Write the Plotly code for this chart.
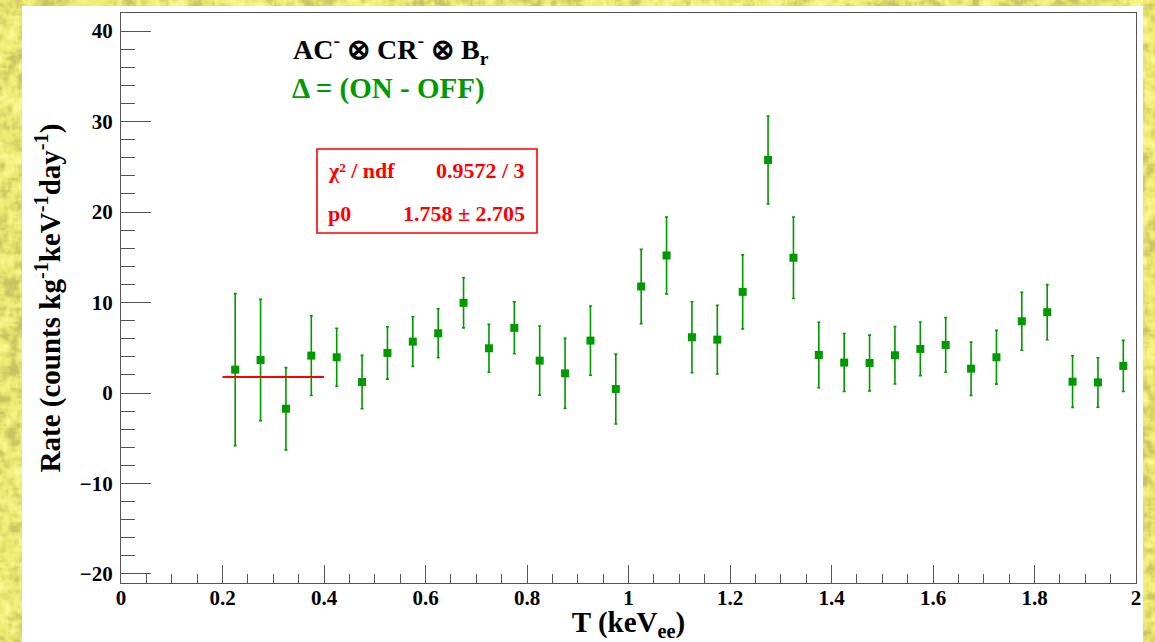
import base64
import struct
import zlib

import numpy as np
import plotly.graph_objects as go

# ---- data: ON - OFF rate per 50 eV bin ----
t_kev = [0.225, 0.275, 0.325, 0.375, 0.425, 0.475, 0.525, 0.575, 0.625, 0.675,
         0.725, 0.775, 0.825, 0.875, 0.925, 0.975, 1.025, 1.075, 1.125, 1.175,
         1.225, 1.275, 1.325, 1.375, 1.425, 1.475, 1.525, 1.575, 1.625, 1.675,
         1.725, 1.775, 1.825, 1.875, 1.925, 1.975]
rate = [2.58, 3.65, -1.74, 4.13, 3.95, 1.21, 4.43, 5.68, 6.60, 9.97,
        4.94, 7.20, 3.58, 2.17, 5.79, 0.44, 11.77, 15.20, 6.16, 5.90,
        11.18, 25.75, 14.95, 4.20, 3.36, 3.32, 4.17, 4.87, 5.31, 2.69,
        3.95, 7.93, 8.93, 1.25, 1.17, 2.99]
rate_err = [8.40, 6.70, 4.55, 4.40, 3.20, 2.95, 2.90, 2.74, 2.70, 2.77,
            2.64, 2.87, 3.82, 3.87, 3.82, 3.86, 4.10, 4.24, 3.93, 3.80,
            4.09, 4.85, 4.50, 3.62, 3.20, 3.08, 3.18, 2.97, 3.02, 2.95,
            2.97, 3.20, 3.05, 2.86, 2.73, 2.83]

# constant fit p0 over 0.2-0.4 keV
fit_range = [0.2, 0.4]
p0, p0_err = 1.758, 2.705
chi2, ndf = 0.9572, 3

x_ticks = [0, 0.2, 0.4, 0.6, 0.8, 1, 1.2, 1.4, 1.6, 1.8, 2]
y_ticks = [-20, -10, 0, 10, 20, 30, 40]

# ---- page geometry ----
W, H = 1155, 642
L, R, T, B = 121, 19, 13, 59
PW, PH = W - L - R, H - T - B


def px2x(px):
    return (px - L) / PW


def py2y(py):
    return (H - B - py) / PH


# ---- mottled yellow canvas texture ----
def blur2d(a, r):
    out = np.zeros_like(a)
    n = 0
    for dy in range(-r, r + 1):
        for dx in range(-r, r + 1):
            out += np.roll(np.roll(a, dy, axis=0), dx, axis=1)
            n += 1
    return out / n


def texture_png(w, h):
    rng = np.random.default_rng(7)
    acc = np.zeros((h, w))
    for r, amp in ((2, 1.0), (1, 0.6), (0, 0.25)):
        n = rng.normal(size=(h, w))
        if r:
            n = blur2d(n, r)
        acc += amp * n / n.std()
    acc = np.clip(acc / acc.std() / 2.0, -1, 1)
    base = np.array([238, 234, 112], float)
    dark = np.array([200, 194, 98], float)
    light = np.array([252, 250, 150], float)
    a = acc[..., None]
    img = np.where(a < 0, base + (-a) * (dark - base), base + a * (light - base))
    img = np.clip(img, 0, 255).astype(np.uint8)
    raw = b"".join(b"\x00" + row.tobytes() for row in img)

    def chunk(tag, data):
        c = tag + data
        return struct.pack(">I", len(data)) + c + struct.pack(">I", zlib.crc32(c) & 0xFFFFFFFF)

    png = (b"\x89PNG\r\n\x1a\n"
           + chunk(b"IHDR", struct.pack(">IIBBBBB", w, h, 8, 2, 0, 0, 0))
           + chunk(b"IDAT", zlib.compress(raw, 9))
           + chunk(b"IEND", b""))
    return "data:image/png;base64," + base64.b64encode(png).decode()


GREEN = "rgb(0,153,0)"
RED = "rgb(255,0,0)"
AXIS = "#555555"
FONT = "Liberation Serif"

fig = go.Figure()

fig.add_trace(go.Scatter(
    x=t_kev, y=rate, mode="markers",
    marker=dict(symbol="square", size=8, color=GREEN),
    error_y=dict(type="data", array=rate_err, visible=True,
                 color=GREEN, thickness=1.6, width=1.5),
    showlegend=False, hoverinfo="x+y",
))

fig.add_trace(go.Scatter(
    x=fit_range, y=[p0, p0], mode="lines",
    line=dict(color=RED, width=2),
    showlegend=False, hoverinfo="skip",
))

tick_font = dict(family=FONT, size=21, color="black", weight="bold")
title_font = dict(family=FONT, size=29, color="black", weight="bold")

fig.update_xaxes(
    range=[0, 2], tickmode="array", tickvals=x_ticks,
    ticks="inside", ticklen=18, tickwidth=1, tickcolor=AXIS,
    minor=dict(ticks="inside", dtick=0.05, tick0=0, ticklen=9,
               tickwidth=1, tickcolor=AXIS, showgrid=False),
    showline=True, linecolor=AXIS, linewidth=1, mirror=True,
    showgrid=False, zeroline=False, automargin=False,
    tickfont=tick_font, ticklabelstandoff=-4,
    title=dict(text="T (keV<sub>ee</sub>)", font=title_font, standoff=7),
)
fig.update_yaxes(
    range=[-21, 42], tickmode="array", tickvals=y_ticks,
    ticks="inside", ticklen=30, tickwidth=1, tickcolor=AXIS,
    minor=dict(ticks="inside", dtick=2, tick0=0, ticklen=14,
               tickwidth=1, tickcolor=AXIS, showgrid=False),
    showline=True, linecolor=AXIS, linewidth=1, mirror=True,
    showgrid=False, zeroline=False, automargin=False,
    tickfont=tick_font, ticklabelstandoff=3,
    title=dict(text="Rate (counts kg<sup>-1</sup>keV<sup>-1</sup>day<sup>-1</sup>)",
               font=title_font, standoff=10),
)

shapes = [
    # white canvas panel
    dict(type="rect", xref="paper", yref="paper", layer="below",
         x0=px2x(22), x1=px2x(1143), y0=py2y(H + 10), y1=py2y(6),
         fillcolor="white", line=dict(width=0)),
    # fit statistics box
    dict(type="rect", xref="paper", yref="paper", layer="below",
         x0=px2x(317), x1=px2x(537), y0=py2y(233), y1=py2y(149),
         fillcolor="white", line=dict(color=RED, width=1.6)),
]

stat_font = dict(family=FONT, size=22, color=RED, weight="bold")
annotations = [
    dict(text="AC<sup>-</sup> ⊗ CR<sup>-</sup> ⊗ B<sub>r</sub>",
         x=px2x(291), y=py2y(50), xanchor="left", yanchor="middle",
         font=dict(family=FONT, size=28, color="black", weight="bold")),
    dict(text="Δ = (ON - OFF)",
         x=px2x(290), y=py2y(89), xanchor="left", yanchor="middle",
         font=dict(family=FONT, size=29, color=GREEN, weight="bold")),
    dict(text="χ² / ndf", x=px2x(326), y=py2y(171),
         xanchor="left", yanchor="middle", font=stat_font),
    dict(text=f"{chi2:.4f} / {ndf}", x=px2x(527), y=py2y(171),
         xanchor="right", yanchor="middle", font=stat_font),
    dict(text="p0", x=px2x(326), y=py2y(213),
         xanchor="left", yanchor="middle", font=stat_font),
    dict(text=f"{p0:.3f} ± {p0_err:.3f}", x=px2x(527), y=py2y(213),
         xanchor="right", yanchor="middle", font=stat_font),
]
for a in annotations:
    a.update(xref="paper", yref="paper", showarrow=False)

fig.update_layout(
    width=W, height=H,
    margin=dict(l=L, r=R, t=T, b=B),
    paper_bgcolor="rgb(238,234,112)",
    plot_bgcolor="white",
    shapes=shapes,
    annotations=annotations,
    images=[dict(source=texture_png(W // 2, H // 2),
                 xref="paper", yref="paper",
                 x=px2x(0), y=py2y(0), sizex=W / PW, sizey=H / PH,
                 xanchor="left", yanchor="top", sizing="stretch",
                 layer="below")],
    font=dict(family=FONT),
)

fig.write_html("out.html")
